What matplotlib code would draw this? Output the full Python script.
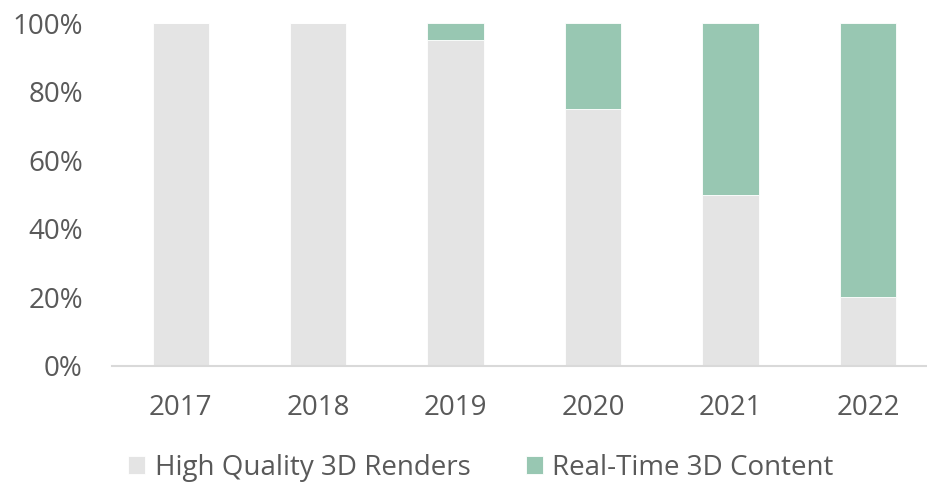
import matplotlib
matplotlib.use("Agg")
import matplotlib.pyplot as plt
from matplotlib.ticker import PercentFormatter

years = ["2017", "2018", "2019", "2020", "2021", "2022"]
high_quality = [100, 100, 95, 75, 50, 20]
real_time = [0, 0, 5, 25, 50, 80]

GREY = "#E4E4E4"
GREEN = "#98C7B2"
TEXT = "#595959"

plt.rcParams["font.family"] = ["Open Sans", "DejaVu Sans"]

fig = plt.figure(figsize=(9.28, 4.84), dpi=100)
ax = fig.add_axes([112 / 928, 1 - 366 / 484, 815 / 928, 343 / 484])

x = range(len(years))
w = 0.41
ax.bar(x, high_quality, width=w, color=GREY, edgecolor="white", linewidth=0.6,
       label="High Quality 3D Renders", zorder=2)
ax.bar(x, real_time, width=w, bottom=high_quality, color=GREEN, edgecolor="white",
       linewidth=0.6, label="Real-Time 3D Content", zorder=2)

ax.set_xlim(-0.5, 5.43)
ax.set_ylim(0, 100)
ax.set_yticks([0, 20, 40, 60, 80, 100])
ax.yaxis.set_major_formatter(PercentFormatter(decimals=0))
ax.set_xticks(list(x))
ax.set_xticklabels(years)
ax.tick_params(axis="both", length=0, labelsize=20, labelcolor=TEXT)
ax.tick_params(axis="y", pad=21)
ax.tick_params(axis="x", pad=20)

for s in ["top", "right", "left"]:
    ax.spines[s].set_visible(False)
ax.spines["bottom"].set_color("#D9D9D9")
ax.spines["bottom"].set_linewidth(1.5)
ax.spines["bottom"].set_zorder(3)

fig.legend(loc="center", bbox_to_anchor=(481 / 928, 1 - 468 / 484), ncol=2,
           frameon=False, fontsize=20, labelcolor=TEXT,
           handlelength=0.6, handleheight=0.6, handletextpad=0.35,
           columnspacing=2.0, borderpad=0, borderaxespad=0)

fig.savefig("out.png", dpi=100)
